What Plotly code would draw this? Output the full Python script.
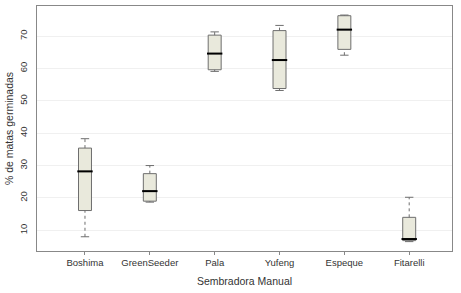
import plotly.graph_objects as go

categories = ["Boshima", "GreenSeeder", "Pala", "Yufeng", "Espeque", "Fitarelli"]
mins    = [8.0, 18.7, 59.1, 53.2, 64.1, 6.5]
q1s     = [16.1, 19.0, 59.6, 53.8, 65.9, 6.8]
medians = [28.2, 22.1, 64.6, 62.6, 72.0, 7.3]
q3s     = [35.4, 27.5, 70.3, 71.7, 76.3, 14.0]
maxs    = [38.3, 30.0, 71.3, 73.3, 76.5, 20.2]
y_ticks = [10, 20, 30, 40, 50, 60, 70]

GRAY = "#6e6e6e"
FONT = "Liberation Sans, Arial, sans-serif"

fig = go.Figure()

# dashed whiskers
wx, wy = [], []
for c, lo, a, b, hi in zip(categories, mins, q1s, q3s, maxs):
    wx += [c, c, None, c, c, None]
    wy += [b, hi, None, lo, a, None]
fig.add_trace(go.Scatter(x=wx, y=wy, mode="lines",
                         line=dict(color=GRAY, width=1, dash="dot"),
                         hoverinfo="skip", showlegend=False))

# whisker caps
fig.add_trace(go.Scatter(x=categories + categories, y=mins + maxs, mode="markers",
                         marker=dict(symbol="line-ew", size=6,
                                     line=dict(color=GRAY, width=1)),
                         hoverinfo="skip", showlegend=False))

# boxes
fig.add_trace(go.Box(x=categories, q1=q1s, median=medians, q3=q3s,
                     lowerfence=q1s, upperfence=q3s,
                     width=0.2, whiskerwidth=0,
                     fillcolor="#e9e9dc", line=dict(color=GRAY, width=1),
                     boxpoints=False, showlegend=False))

# medians
fig.add_trace(go.Scatter(x=categories, y=medians, mode="markers",
                         marker=dict(symbol="line-ew", size=11,
                                     line=dict(color="black", width=2)),
                         hoverinfo="skip", showlegend=False))

fig.update_layout(
    width=461, height=293,
    margin=dict(l=37, r=9, t=6, b=42),
    paper_bgcolor="white", plot_bgcolor="white",
    font=dict(family=FONT, size=9, color="#333"),
    xaxis=dict(type="category", categoryorder="array", categoryarray=categories,
               range=[-0.74, 5.66], showgrid=False, zeroline=False, automargin=False,
               showline=True, mirror=True, linecolor="#888", linewidth=1,
               ticks="outside", ticklen=3, tickcolor="#888",
               tickfont=dict(size=9.5, color="#333"),
               title=dict(text="Sembradora Manual", font=dict(size=10.5, color="#333"), standoff=10)),
    yaxis=dict(range=[3.6, 79.3], tickvals=y_ticks, ticktext=[str(v) for v in y_ticks],
               tickangle=-90, showgrid=True, gridcolor="#f0f0f0", gridwidth=1,
               zeroline=False, showline=True, mirror=True, linecolor="#888", linewidth=1,
               ticks="", ticklabelstandoff=5, automargin=False,
               tickfont=dict(size=9.5, color="#333"),
               title=dict(text="% de matas germinadas", font=dict(size=10.5, color="#333"), standoff=2)),
)

fig.write_html("out.html", config={"displayModeBar": False},
               post_script="document.body.style.margin='0';")
